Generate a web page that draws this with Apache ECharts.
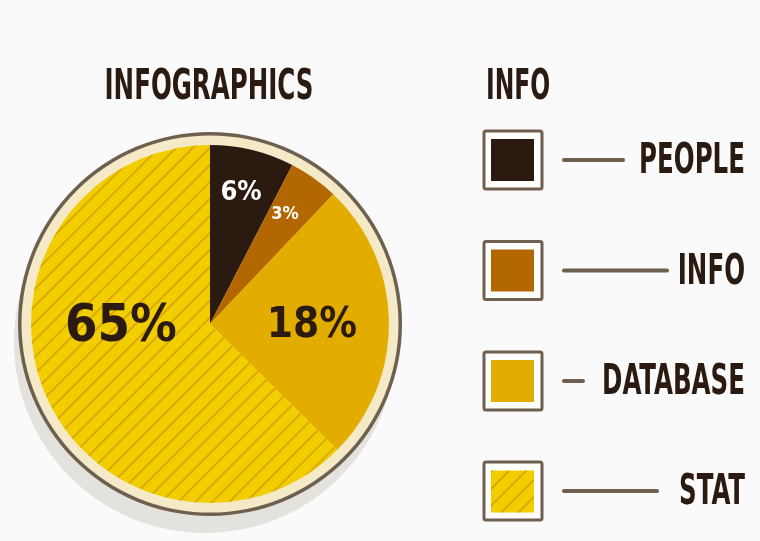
<!DOCTYPE html>
<html><head><meta charset="utf-8">
<script src="https://cdn.jsdelivr.net/npm/echarts@6/dist/echarts.min.js"></script>
<style>html,body{margin:0;padding:0;background:#FAFAFA}#c{width:760px;height:541px}</style>
</head><body><div id="c"></div>
<script>
// ---- data ----
const categories = ['PEOPLE', 'INFO', 'DATABASE', 'STAT'];
const sliceValues = [7.6, 4.5, 25.3, 62.6];     // slice sizes as drawn
const sliceLabels = ['6%', '3%', '18%', '65%'];  // printed labels
const titleText = 'INFOGRAPHICS';
const legendTitle = 'INFO';

// ---- style ----
const FAM = "'Liberation Sans Narrow','DejaVu Sans Condensed','Liberation Sans',sans-serif";
const DARK = '#2B1A10';
const BROWN = '#6E5F4F';
const colors = ['#2A1A0F', '#B36700', '#E3AD00', '#F2CD00'];
const labelStyle = [
  {fontSize: 27, color: '#FFFFFF'},
  {fontSize: 18, color: '#FFFFFF'},
  {fontSize: 42, color: DARK},
  {fontSize: 52, color: DARK}
];
const labelPos = [[241, 193], [285, 214], [312, 326], [121, 327]];
const legendRowY = [160, 270.5, 381, 491];
const connectorEnd = [623, 667, 583, 657];

const chart = echarts.init(document.getElementById('c'), null, {renderer: 'canvas'});

const pieData = categories.map((n, i) => ({
  name: n,
  value: sliceValues[i],
  itemStyle: Object.assign({color: colors[i]}, i === 3 ? {
    decal: {symbol: 'rect', symbolSize: 1, dashArrayX: [1, 0], dashArrayY: [1.6, 9.8],
      rotation: -Math.PI / 4, color: 'rgba(200,145,0,0.6)'}
  } : {}),
  label: {fontSize: labelStyle[i].fontSize, color: labelStyle[i].color}
}));

const graphics = [];
graphics.push({type: 'text', x: 209, y: 88, scaleX: 0.634,
  style: {text: titleText, x: 0, y: 0, align: 'center', verticalAlign: 'middle',
    font: 'bold 43px ' + FAM, fill: DARK}});
graphics.push({type: 'text', x: 486, y: 88, scaleX: 0.605,
  style: {text: legendTitle, x: 0, y: 0, align: 'left', verticalAlign: 'middle',
    font: 'bold 43px ' + FAM, fill: DARK}});
categories.forEach((n, i) => {
  const cy = legendRowY[i];
  graphics.push({type: 'rect', z: 0, shape: {x: 484, y: cy - 29, width: 58, height: 58, r: 2},
    style: {fill: '#FFFFFF', stroke: BROWN, lineWidth: 3}});
  graphics.push({type: 'line', shape: {x1: 564, y1: cy, x2: connectorEnd[i], y2: cy},
    style: {stroke: BROWN, lineWidth: 4, lineCap: 'round'}});
  graphics.push({type: 'text', x: 745, y: cy + 2, scaleX: 0.634,
    style: {text: n, x: 0, y: 0, align: 'right', verticalAlign: 'middle',
      font: 'bold 43px ' + FAM, fill: DARK}});
});

chart.setOption({
  backgroundColor: '#FAFAFA',
  animation: false,
  legend: {
    data: categories, orient: 'vertical', left: 491, top: 139, padding: 0,
    itemWidth: 43, itemHeight: 42, itemGap: 68.5, icon: 'rect',
    formatter: () => '', selectedMode: false, z: 5
  },
  graphic: {elements: graphics},
  series: [
    {type: 'pie', silent: true, center: [205, 342], radius: 191, label: {show: false},
      data: [{value: 1, name: 'shadow', itemStyle: {color: '#E4E2DD'}}], emphasis: {disabled: true}},
    {type: 'pie', silent: true, center: [210, 324], radius: 192, label: {show: false},
      data: [{value: 1, name: 'rim', itemStyle: {color: BROWN}}], emphasis: {disabled: true}},
    {type: 'pie', silent: true, center: [210, 324], radius: 188.5, label: {show: false},
      data: [{value: 1, name: 'ring', itemStyle: {color: '#F4EAC8'}}], emphasis: {disabled: true}},
    {type: 'pie', name: 'info', center: [210, 324], radius: 179, startAngle: 90, clockwise: true,
      avoidLabelOverlap: false, emphasis: {disabled: true},
      label: {show: true, position: 'inside', fontFamily: FAM, fontWeight: 'bold',
        formatter: p => sliceLabels[p.dataIndex]},
      labelLine: {show: false},
      labelLayout: p => ({x: labelPos[p.dataIndex][0], y: labelPos[p.dataIndex][1],
        align: 'center', verticalAlign: 'middle'}),
      data: pieData}
  ]
});
</script></body></html>
